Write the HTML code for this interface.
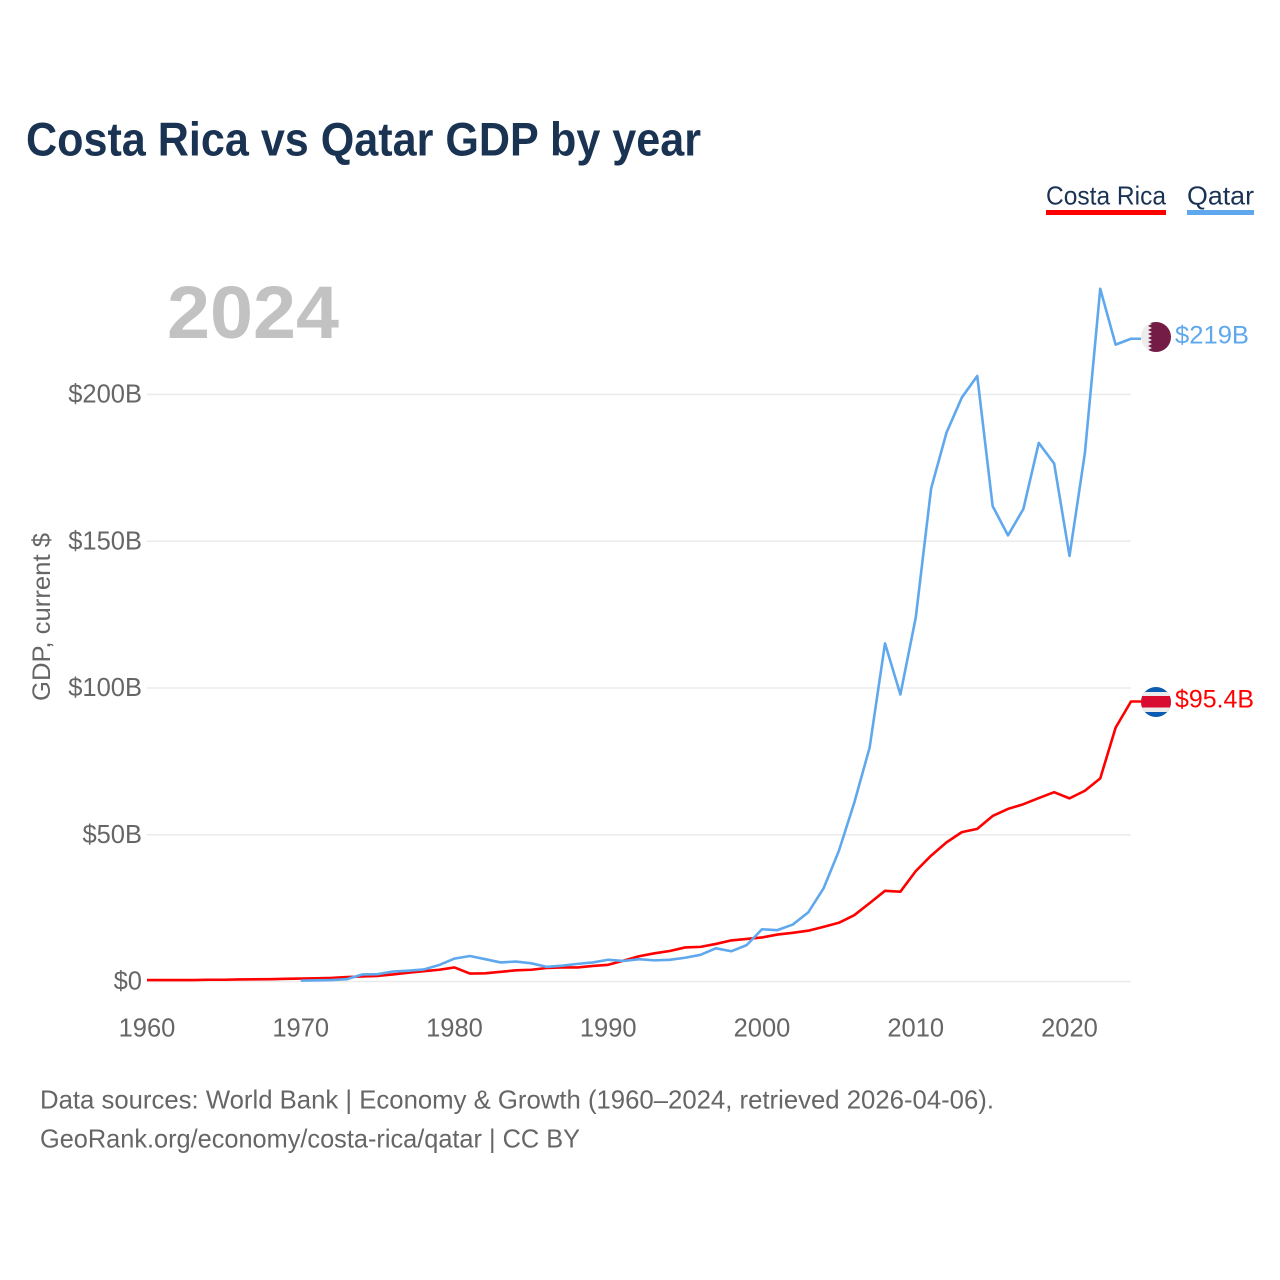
<!DOCTYPE html>
<html lang="en">
<head>
<meta charset="utf-8">
<title>Costa Rica vs Qatar GDP by year</title>
<style>
html,body{margin:0;padding:0;background:#fff;width:1280px;height:1280px;overflow:hidden}
svg{display:block}
text{font-family:"Liberation Sans",sans-serif}
</style>
</head>
<body>
<svg id="chart" xmlns="http://www.w3.org/2000/svg" width="1280" height="1280" viewBox="0 0 1280 1280">
  <defs>
    <clipPath id="clip-qa"><circle cx="1156" cy="337" r="15"/></clipPath>
    <clipPath id="clip-cr"><circle cx="1156" cy="702" r="15"/></clipPath>
  </defs>
  <text x="26" y="155.5" font-size="47" font-weight="700" fill="#1a3353" textLength="675" lengthAdjust="spacingAndGlyphs">Costa Rica vs Qatar GDP by year</text>

  <g>
    <g>
      <text x="1046" y="204.5" font-size="26" fill="#1a3353" textLength="120" lengthAdjust="spacingAndGlyphs">Costa Rica</text>
      <rect x="1046" y="210" width="120" height="5" fill="#ff0000"/>
    </g>
    <g>
      <text x="1187" y="204.5" font-size="26" fill="#1a3353" textLength="67" lengthAdjust="spacingAndGlyphs">Qatar</text>
      <rect x="1187" y="210" width="67" height="5" fill="#5fa8ee"/>
    </g>
  </g>

  <text x="167" y="338" font-size="74" font-weight="700" fill="#c2c2c2" textLength="172" lengthAdjust="spacingAndGlyphs">2024</text>

  <g id="grid"></g>
  <g id="y-axis"></g>
  <g id="x-axis"></g>
  <text transform="translate(50,617) rotate(-90)" text-anchor="middle" font-size="25" fill="#666" textLength="168" lengthAdjust="spacingAndGlyphs">GDP, current $</text>

  <g id="series"></g>

  <g clip-path="url(#clip-qa)">
    <rect x="1141" y="322" width="30" height="30" fill="#ececec"/>
    <polygon fill="#741c46" points="1171,322 1148,322 1152,324 1148,326 1152,328 1148,330 1152,332 1148,334 1152,336 1148,338 1152,340 1148,342 1152,344 1148,346 1152,348 1148,350 1152,352 1171,352"/>
  </g>
  <g clip-path="url(#clip-cr)">
    <rect x="1141" y="687" width="30" height="30" fill="#0a5cb0"/>
    <rect x="1141" y="692" width="30" height="20" fill="#ececec"/>
    <rect x="1141" y="696" width="30" height="11.5" fill="#d80b30"/>
  </g>
  <text id="label-qa" x="1175" y="343.5" font-size="25" fill="#5fa8ee" textLength="74" lengthAdjust="spacingAndGlyphs">$219B</text>
  <text id="label-cr" x="1175" y="707.5" font-size="25" fill="#ff0000" textLength="79" lengthAdjust="spacingAndGlyphs">$95.4B</text>

  <g>
    <text x="40" y="1108.5" font-size="26" fill="#666" textLength="954" lengthAdjust="spacingAndGlyphs">Data sources: World Bank | Economy &amp; Growth (1960–2024, retrieved 2026-04-06).</text>
    <text x="40" y="1147.5" font-size="26" fill="#666" textLength="540" lengthAdjust="spacingAndGlyphs">GeoRank.org/economy/costa-rica/qatar | CC BY</text>
  </g>
</svg>
<script>
const yTicks = [0, 50, 100, 150, 200];
const yTickLabels = ["$0", "$50B", "$100B", "$150B", "$200B"];
const xTicks = [1960, 1970, 1980, 1990, 2000, 2010, 2020];
const costaRicaStartYear = 1960;
const qatarStartYear = 1970;
const costaRicaValues = [0.5,0.5,0.5,0.5,0.6,0.6,0.7,0.75,0.8,0.9,1.0,1.1,1.2,1.5,1.7,1.9,2.4,3.0,3.5,4.0,4.8,2.7,2.8,3.3,3.8,4.0,4.6,4.8,4.8,5.3,5.7,7.1,8.6,9.6,10.4,11.6,11.8,12.8,14.0,14.5,15.0,16.0,16.6,17.3,18.6,20.0,22.6,26.7,30.9,30.6,37.6,42.9,47.4,50.9,52.0,56.4,58.8,60.4,62.5,64.5,62.4,65.0,69.2,86.5,95.4];
const qatarValues = [0.3,0.4,0.5,0.8,2.4,2.5,3.4,3.7,4.1,5.6,7.8,8.7,7.6,6.5,6.8,6.2,5.0,5.4,6.0,6.5,7.4,7.0,7.6,7.2,7.4,8.1,9.1,11.3,10.3,12.4,17.8,17.5,19.4,23.5,31.7,44.5,60.9,79.7,115.2,97.8,124.0,168.0,187.0,199.0,206.3,162.0,152.0,161.0,183.5,176.5,145.0,180.0,236.0,217.0,219.0];

const SVG_NS = "http://www.w3.org/2000/svg";
const xScale = function (year) { return 147 + (year - 1960) * (1131 - 147) / 64; };
const yScale = function (value) { return 981.5 - value * (981.5 - 394.5) / 200; };

function make(tag, parent) {
  const el = document.createElementNS(SVG_NS, tag);
  parent.appendChild(el);
  return el;
}

const gridGroup = document.getElementById("grid");
const yAxisGroup = document.getElementById("y-axis");
const xAxisGroup = document.getElementById("x-axis");
const seriesGroup = document.getElementById("series");

yTicks.forEach(function (tick, i) {
  const line = make("line", gridGroup);
  
  
  line.setAttribute("x1", 147);
  line.setAttribute("x2", 1131);
  line.setAttribute("y1", yScale(tick));
  line.setAttribute("y2", yScale(tick));
  line.setAttribute("stroke", "#ebebeb");
  line.setAttribute("stroke-width", 1.5);

  const label = make("text", yAxisGroup);
  
  
  label.setAttribute("x", 142);
  label.setAttribute("y", yScale(tick) + 8);
  label.setAttribute("text-anchor", "end");
  label.setAttribute("font-size", 25.5);
  label.setAttribute("fill", "#666");
  label.textContent = yTickLabels[i];
});

xTicks.forEach(function (tick) {
  const label = make("text", xAxisGroup);
  
  
  label.setAttribute("x", xScale(tick));
  label.setAttribute("y", 1036.5);
  label.setAttribute("text-anchor", "middle");
  label.setAttribute("font-size", 25.5);
  label.setAttribute("fill", "#666");
  label.textContent = tick;
});

function drawSeries(values, startYear, color) {
  const coords = values.map(function (v, i) {
    return xScale(startYear + i).toFixed(2) + "," + yScale(v).toFixed(2);
  });
  // short leader from the last data point to the flag marker
  coords.push("1141," + yScale(values[values.length - 1]).toFixed(2));
  const line = make("polyline", seriesGroup);
  line.setAttribute("points", coords.join(" "));
  line.setAttribute("fill", "none");
  line.setAttribute("stroke", color);
  line.setAttribute("stroke-width", 2.6);
  line.setAttribute("stroke-linejoin", "round");
  return line;
}

const costaRicaLine = drawSeries(costaRicaValues, costaRicaStartYear, "#ff0000");



const qatarLine = drawSeries(qatarValues, qatarStartYear, "#5fa8ee");


</script>
</body>
</html>
